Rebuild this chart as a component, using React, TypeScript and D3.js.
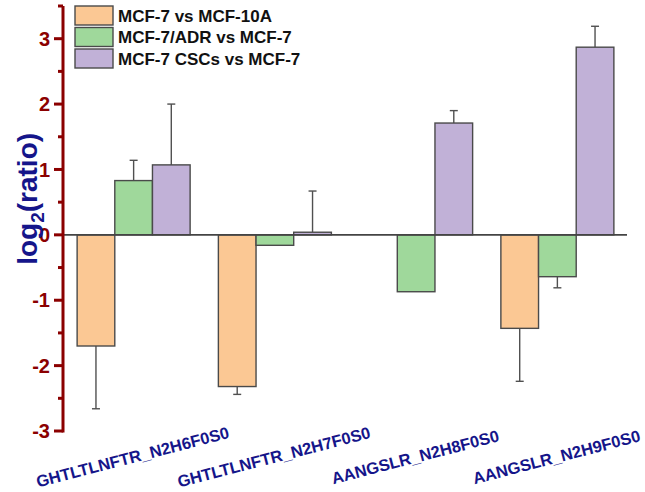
import React from "react";
import * as d3 from "d3";

const categories = ["GHTLTLNFTR_N2H6F0S0", "GHTLTLNFTR_N2H7F0S0", "AANGSLR_N2H8F0S0", "AANGSLR_N2H9F0S0"];
const seriesNames = ["MCF-7 vs MCF-10A", "MCF-7/ADR vs MCF-7", "MCF-7 CSCs vs MCF-7"];
const valuesA = [-1.70, -2.32, 0, -1.43];
const valuesB = [0.83, -0.16, -0.87, -0.64];
const valuesC = [1.07, 0.04, 1.71, 2.87];
const errorsA = [0.96, 0.12, 0, 0.81];
const errorsB = [0.31, 0, 0, 0.17];
const errorsC = [0.93, 0.63, 0.19, 0.32];
const yTicks = [-3, -2, -1, 0, 1, 2, 3];
const yMinorTicks = [-2.5, -1.5, -0.5, 0.5, 1.5, 2.5, 3.5];

const colors = ["#FBC894", "#9FD89B", "#C1B1D7"];
const axisColor = "#8B0000";
const navy = "#15158A";
const W = 645, H = 492;

export default function App() {
  const x0 = d3.scaleBand<string>().domain(categories).range([63, 628]).paddingInner(0.2).paddingOuter(0.1);
  const x1 = d3.scaleBand<number>().domain([0, 1, 2]).range([0, x0.bandwidth()]);
  const y = d3.scaleLinear().domain([-3, 3.5]).range([431, 6]);
  const vals = [valuesA, valuesB, valuesC];
  const errs = [errorsA, errorsB, errorsC];
  const font = "'Liberation Sans', Arial, sans-serif";
  const axisX = 63;

  return (
    <div style={{ position: "fixed", left: 0, top: 0, width: W, height: H, background: "#fff" }}>
      <svg width={W} height={H} style={{ display: "block" }} fontFamily={font}>
        {/* bars */}
        {vals.map((sv, si) =>
          sv.map((v, ci) => {
            if (v === 0) return null;
            const bx = (x0(categories[ci]) as number) + (x1(si) as number);
            const bw = x1.bandwidth();
            const top = y(Math.max(0, v));
            const bot = y(Math.min(0, v));
            const e = errs[si][ci];
            const cx = bx + bw / 2;
            const endV = v + Math.sign(v) * e;
            return (
              <g key={`${si}-${ci}`}>
                {e > 0 && (
                  <g stroke="#505050" strokeWidth={1.4}>
                    <line x1={cx} x2={cx} y1={y(v)} y2={y(endV)} />
                    <line x1={cx - 4} x2={cx + 4} y1={y(endV)} y2={y(endV)} />
                  </g>
                )}
                <rect x={bx} y={top} width={bw} height={bot - top} fill={colors[si]} stroke="#4a4a4a" strokeWidth={1.4} />
              </g>
            );
          })
        )}
        {/* zero baseline */}
        <line x1={axisX} x2={627} y1={y(0)} y2={y(0)} stroke="#444" strokeWidth={1.6} />
        {/* y axis */}
        <line x1={axisX} x2={axisX} y1={y(3.5)} y2={y(-3) + 1.5} stroke={axisColor} strokeWidth={3} />
        {yTicks.map((t) => (
          <g key={t}>
            <line x1={axisX - 9} x2={axisX} y1={y(t)} y2={y(t)} stroke={axisColor} strokeWidth={3} />
            <text x={axisX - 13} y={y(t)} dy="0.36em" textAnchor="end" fontSize={20} fontWeight="bold" fill={axisColor}>
              {t}
            </text>
          </g>
        ))}
        {yMinorTicks.map((t) => (
          <line key={t} x1={axisX - 5} x2={axisX} y1={y(t)} y2={y(t)} stroke={axisColor} strokeWidth={3} />
        ))}
        {/* y label */}
        <text transform={`translate(37,${y(0.55)}) rotate(-90)`} textAnchor="middle" fontSize={28} fontWeight="bold" fill={navy}>
          log<tspan fontSize={19} dy={7}>2</tspan>
          <tspan dy={-7}>(ratio)</tspan>
        </text>
        {/* x labels */}
        {categories.map((c) => {
          const cx = (x0(c) as number) + x0.bandwidth() / 2 - 1;
          return (
            <text key={c} transform={`translate(${cx},457) rotate(-14.5)`} textAnchor="middle" dy="0.35em" fontSize={16.5} fontWeight="bold" fill={navy}>
              {c}
            </text>
          );
        })}
        {/* legend */}
        {seriesNames.map((n, i) => (
          <g key={n} transform={`translate(75,${6 + i * 21.5})`}>
            <rect x={0} y={0} width={38} height={19} fill={colors[i]} stroke="#4a4a4a" strokeWidth={1.4} />
            <text x={43} y={15.5} fontSize={17} fontWeight="bold" fill="#111">
              {n}
            </text>
          </g>
        ))}
      </svg>
    </div>
  );
}
